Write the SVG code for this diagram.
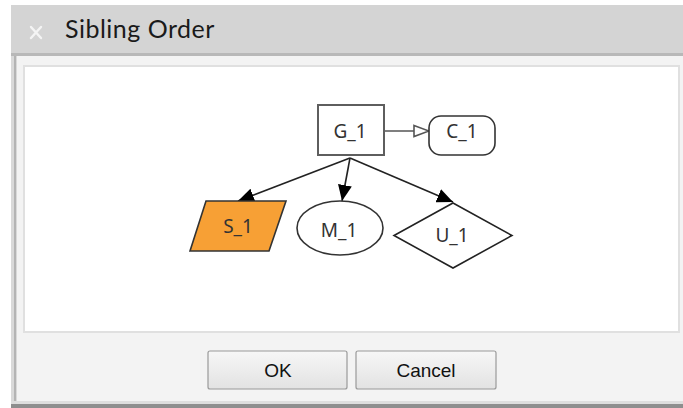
<svg xmlns="http://www.w3.org/2000/svg" width="683" height="408" viewBox="0 0 683 408">
<defs>
<linearGradient id="btn" x1="0" y1="0" x2="0" y2="1">
<stop offset="0" stop-color="#f7f7f7"/>
<stop offset="1" stop-color="#e2e2e2"/>
</linearGradient>
<marker id="filled" viewBox="0 0 16 14" refX="16" refY="7" markerWidth="16" markerHeight="14" markerUnits="userSpaceOnUse" orient="auto">
<path d="M0,0 L16,7 L0,14 Z" fill="#000"/>
</marker>
<marker id="open" viewBox="0 0 18 14" refX="16" refY="7" markerWidth="18" markerHeight="14" markerUnits="userSpaceOnUse" orient="auto">
<path d="M1,1.5 L16,7 L1,12.5 Z" fill="#fff" stroke="#555" stroke-width="1.6"/>
</marker>
</defs>
<style>
.lbl{font-family:"Noto Sans","Open Sans","DejaVu Sans",sans-serif;font-size:19px;fill:#333;text-anchor:middle}
.node{fill:#fff;stroke:#5e5e5e;stroke-width:2}
.edge{stroke:#222;stroke-width:1.6;fill:none}
.btntext{font-family:"Liberation Sans",Arial,sans-serif;font-size:19px;fill:#111;text-anchor:middle}
.btn{fill:url(#btn);stroke:#9a9a9a;stroke-width:1.2}
</style>
<rect x="0" y="0" width="683" height="408" fill="#fff"/>
<rect x="11" y="5" width="672" height="403" fill="#f3f3f3"/>
<rect x="11" y="5" width="672" height="49" fill="#d4d4d4"/>
<rect x="11" y="53" width="672" height="3" fill="#b8b8b8"/>
<rect x="11" y="56" width="6" height="349" fill="#d9d9d9"/>
<rect x="14" y="56" width="2" height="349" fill="#b4b4b4"/>
<rect x="11" y="401" width="672" height="3" fill="#dedede"/>
<rect x="11" y="404" width="672" height="4" fill="#8e8e8e"/>
<g id="close-icon" stroke="#f4f4f4" stroke-width="2.4" stroke-linecap="round">
<path d="M31,27 L41,38 M41,27 L31,38"/>
</g>
<text x="65" y="38" font-family="Lato,'Open Sans',sans-serif" font-size="25" letter-spacing="0.5" fill="#1a1a1a">Sibling Order</text>
<rect x="24" y="66" width="655" height="266" fill="#fff" stroke="#e0e0e0" stroke-width="2"/>
<g id="connectors">
<line class="edge" x1="384" y1="131" x2="429" y2="131" marker-end="url(#open)" style="stroke:#555"/>
<line class="edge" x1="350" y1="158" x2="238" y2="201" marker-end="url(#filled)"/>
<line class="edge" x1="350" y1="158" x2="342" y2="201" marker-end="url(#filled)"/>
<line class="edge" x1="350" y1="158" x2="453" y2="202" marker-end="url(#filled)"/>
</g>
<g id="G_1">
<rect class="node" x="318" y="105" width="66" height="50"/>
<text class="lbl" x="350" y="138">G_1</text>
</g>
<g id="C_1">
<rect class="node" x="429" y="116" width="66" height="39" rx="12" style="stroke:#333;stroke-width:1.6"/>
<text class="lbl" x="462" y="138">C_1</text>
</g>
<g id="S_1">
<polygon class="node" points="206,201 286,201 269,251 190,251" style="fill:#f7a035;stroke:#333;stroke-width:1.6"/>
<text class="lbl" x="238" y="233">S_1</text>
</g>
<g id="M_1">
<ellipse class="node" cx="340" cy="228" rx="43" ry="27" style="stroke:#333;stroke-width:1.6"/>
<text class="lbl" x="339" y="237">M_1</text>
</g>
<g id="U_1">
<polygon class="node" points="453,203 512,235.5 453,268 394,235.5" style="stroke:#222;stroke-width:1.6"/>
<text class="lbl" x="452" y="242">U_1</text>
</g>
<g id="OK">
<rect class="btn" x="208" y="351" width="139" height="38" rx="2"/>
<text class="btntext" x="278" y="377">OK</text>
</g>
<g id="Cancel">
<rect class="btn" x="356" y="351" width="140" height="38" rx="2"/>
<text class="btntext" x="426" y="377">Cancel</text>
</g>
</svg>
